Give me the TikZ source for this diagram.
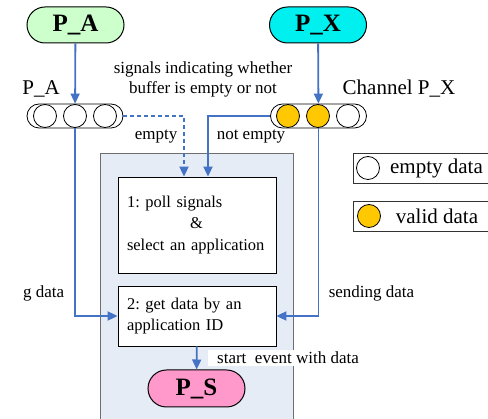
\documentclass[tikz,border=0pt]{standalone}
\usepackage{fontspec}
\setmainfont{Liberation Serif}
\usetikzlibrary{arrows.meta,shapes.misc}
\frenchspacing
\definecolor{pagreen}{RGB}{204,255,204}
\definecolor{pxcyan}{RGB}{0,240,240}
\definecolor{pspink}{RGB}{255,153,204}
\definecolor{validyellow}{RGB}{255,200,0}
\definecolor{flowblue}{RGB}{68,114,196}
\definecolor{panelfill}{RGB}{230,236,246}
\definecolor{panelgray}{RGB}{110,110,110}
\begin{document}
\begin{tikzpicture}[x=1pt, y=-1pt,
  proc/.style={rounded rectangle, draw, line width=1pt, minimum width=97pt, minimum height=36pt, inner sep=0pt, font=\fontsize{25}{25}\selectfont\bfseries},
  buf/.style={rounded rectangle, draw, line width=0.8pt, minimum width=96pt, minimum height=24pt, inner sep=0pt},
  slot/.style={circle, draw, line width=0.8pt, minimum size=23pt, inner sep=0pt, fill=white},
  flow/.style={draw=flowblue, line width=1.8pt, -{Triangle[length=10pt,width=9pt]}},
  stepbox/.style={draw, line width=0.8pt, fill=white, inner xsep=9pt, text width=140pt, align=left, font=\fontsize{16.5}{21.5}\selectfont},
  lbl/.style={inner sep=0pt, font=\fontsize{17}{20}\selectfont},
  biglbl/.style={inner sep=0pt, font=\fontsize{21}{24}\selectfont},
  legbox/.style={draw=black!80, line width=1pt, minimum width=142pt, minimum height=30pt, anchor=north west}]
\path[use as bounding box] (0,0) rectangle (488,419);
\clip (0,0) rectangle (488,419);

\node[draw=panelgray, line width=0.8pt, fill=panelfill, minimum width=193pt, minimum height=280pt, anchor=north west] (panel) at (100,153) {};

\node[proc, fill=pagreen] (pa) at (75.5, 25) {P\_A};
\node[proc, fill=pxcyan] (px) at (318, 25) {P\_X};

\node[buf] (bufa) at (75, 116) {};
\node[slot] (a1) at (45, 116) {};
\node[slot] (a2) at (75, 116) {};
\node[slot] (a3) at (105, 116) {};

\node[buf] (bufx) at (318.5, 116) {};
\node[slot, fill=validyellow] (x1) at (288, 116) {};
\node[slot, fill=validyellow] (x2) at (318, 116) {};
\node[slot] (x3) at (348, 116) {};

\node[biglbl] (lpa) at (41, 89) {P\_A};
\node[biglbl] (lpx) at (399, 89) {Channel P\_X};
\node[lbl, align=center] (sig) at (203, 79) {signals indicating whether\\buffer is empty or not};
\node[lbl] (lempty) at (156, 137) {empty};
\node[lbl] (lnot) at (251, 137) {not empty};

\node[stepbox, minimum height=96pt] (box1) at (197, 225) {1: poll signals\\\hspace*{63pt}\&\\select an application};
\node[stepbox, minimum height=60pt] (box2) at (197, 316) {2: get data by an\\application ID};

\node[proc, fill=pspink, minimum height=37pt] (ps) at (196.5, 388.5) {P\_S};

\node[lbl, anchor=west] (lsend) at (23, 293) {g data};
\node[lbl] (rsend) at (371.5, 293) {sending data};
\node[lbl, fill=white, inner xsep=5pt, inner ysep=2pt, anchor=west] (lstart) at (208, 358) {\hspace*{4pt}start\ \ event with data};

\node[legbox] (lege) at (353, 153) {};
\node[slot] (le) at (368, 168) {};
\node[biglbl] (tle) at (436.5, 168) {empty data};
\node[legbox] (legv) at (353, 201) {};
\node[slot, fill=validyellow] (lv) at (369, 216) {};
\node[biglbl] (tlv) at (437, 216) {valid data};

\coordinate (de) at (184, 0);
\coordinate (dn) at (208, 0);

\draw[flow] (pa) -- (bufa);
\draw[flow] (px) -- (bufx);
\draw[flow, dash pattern=on 4pt off 3pt] (bufa.east) -| (de |- box1.north);
\draw[flow] (bufx.west) -| (dn |- box1.north);
\draw[flow] (bufa.south) |- (box2.west);
\draw[flow] (bufx.south) |- (box2.east);
\draw[flow] (box2) -- (ps);
\end{tikzpicture}
\end{document}
